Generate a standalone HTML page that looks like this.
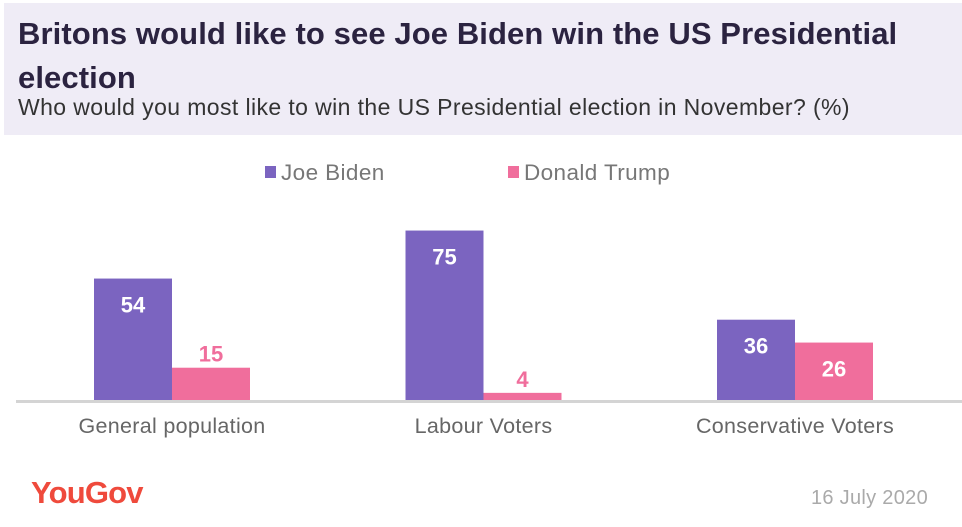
<!DOCTYPE html>
<html><head><meta charset="utf-8">
<style>
body{margin:0;width:962px;height:527px;background:#fff;font-family:"Liberation Sans",sans-serif;overflow:hidden;position:relative}
#hdr{position:absolute;left:4px;top:3px;width:958px;height:132px;background:#efecf6}
#title{position:absolute;left:18px;top:12px;font-size:31px;font-weight:bold;color:#2b2340;line-height:44px;letter-spacing:0.1px;white-space:nowrap}
#sub{position:absolute;left:18px;top:94px;font-size:23px;color:#333;letter-spacing:0.4px;white-space:nowrap}
svg{position:absolute;left:0;top:0}
</style></head><body>
<div id="hdr"></div>
<div id="title">Britons would like to see Joe Biden win the US Presidential<br>election</div>
<div id="sub">Who would you most like to win the US Presidential election in November? (%)</div>
<svg id="chart" width="962" height="527"></svg>
<script>
const categories=["General  population","Labour Voters","Conservative Voters"];
const biden=[54,75,36];
const trump=[15,4,26];
const seriesNames=["Joe Biden","Donald Trump"];
const NS="http://www.w3.org/2000/svg";
const svg=document.getElementById('chart');
const base=402, scale=2.286, bw=78;
const xc=i=>172+i*311.5;
const y=v=>base-v*scale;
function mk(t,a){const e=document.createElementNS(NS,t);for(const k in a)e.setAttribute(k,a[k]);svg.appendChild(e);return e;}
const colors=["#7b64c0","#f06e9c"];
const lx=[265,508];
seriesNames.forEach((n,i)=>{
 const r=mk('rect',{x:lx[i],y:166,width:11,height:12,fill:colors[i]});
 
 
 const t=mk('text',{x:lx[i]+16,y:180,'font-size':22.5,fill:'#777','letter-spacing':'0.4'});t.textContent=n;
 
 
});
[biden,trump].forEach((s,si)=>{
 s.forEach((v,i)=>{
  const x=xc(i)-bw+si*bw;
  const r=mk('rect',{x:x,y:y(v),width:bw,height:v*scale,fill:colors[si]});
  
  
  const inside=v*scale>40;
  const t=mk('text',{x:x+bw/2,y:inside?y(v)+34:y(v)-6,'text-anchor':'middle','font-size':22,'font-weight':'bold',fill:inside?'#fff':colors[si]});
  t.textContent=v;
  
  
 });
});
const ax=mk('rect',{x:16,y:400,width:946,height:3,fill:'#d4d4d4'});


categories.forEach((c,i)=>{
 const t=mk('text',{x:xc(i),y:433,'text-anchor':'middle','font-size':21.5,fill:'#666','xml:space':'preserve','letter-spacing':'0.3'});
 t.textContent=c;
 
 
});
const logo=mk('text',{x:31,y:503,'font-size':31,'font-weight':'bold',fill:'#ef4a3c','letter-spacing':'-0.8'});
logo.textContent='YouGov';


const d=mk('text',{x:928,y:504,'text-anchor':'end','font-size':20,fill:'#aaa','letter-spacing':'0.3'});
d.textContent='16 July 2020';


</script>
</body></html>
